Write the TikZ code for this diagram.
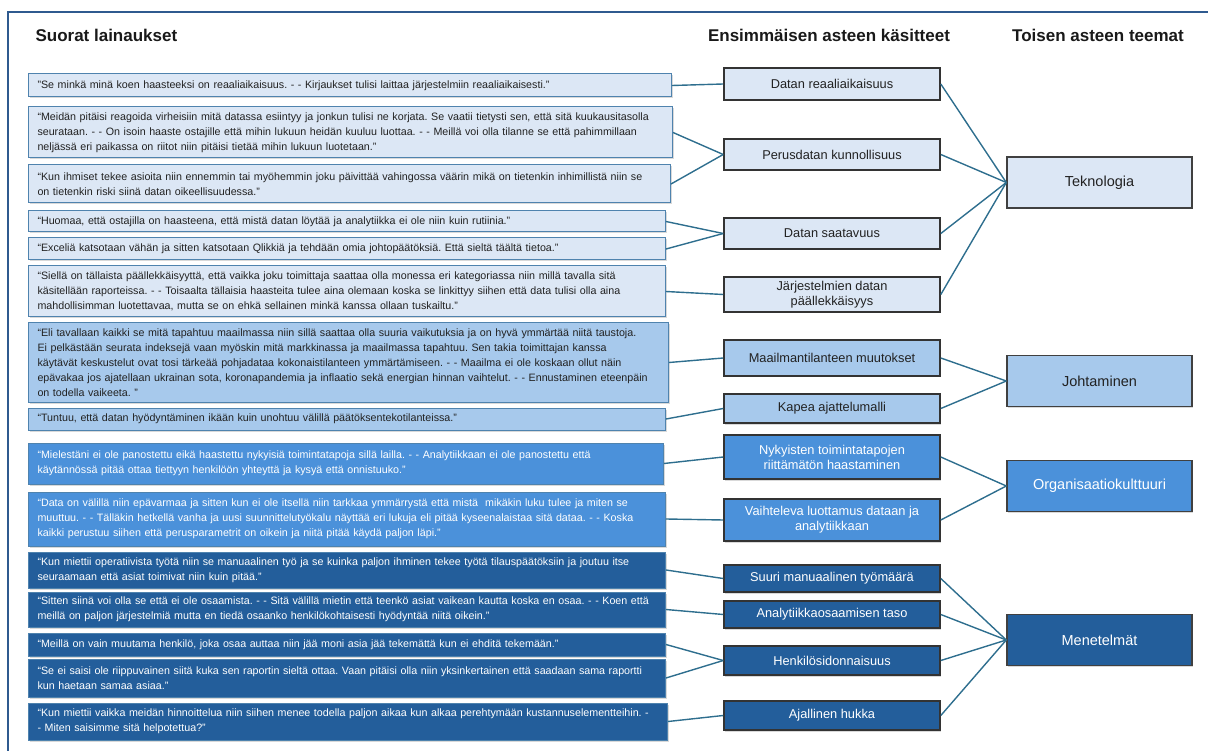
\documentclass[tikz,border=0pt]{standalone}
\usepackage{fontspec}
\setmainfont{Liberation Sans}
\usetikzlibrary{shadows}

\definecolor{framec}{HTML}{2F5A8F}
\definecolor{linkc}{HTML}{2E6E8E}
\definecolor{qborder}{HTML}{4F83AE}
\definecolor{techfill}{HTML}{DCE7F5}
\definecolor{leadfill}{HTML}{A7C9EC}
\definecolor{orgfill}{HTML}{4B91DA}
\definecolor{methfill}{HTML}{235E9B}
\definecolor{qtext}{HTML}{222222}

\tikzset{
  softshadow/.style={drop shadow={shadow xshift=1pt, shadow yshift=-1.5pt, opacity=0.3}},
  quote/.style={draw=qborder, line width=1pt, anchor=west, align=left,
    inner xsep=9pt, inner ysep=0pt, text=qtext,
    font=\fontsize{10.7}{15}\selectfont\frenchspacing, softshadow},
  darkquote/.style={quote, text=white},
  concept/.style={draw=black!80, line width=1.6pt, minimum width=216pt,
    align=center, inner sep=0pt, text=qtext,
    font=\fontsize{12.8}{15}\selectfont, softshadow},
  theme/.style={draw=black!75, line width=1.4pt, minimum width=185pt,
    minimum height=51pt, inner sep=0pt, text=qtext,
    font=\fontsize{14.5}{16}\selectfont, softshadow},
  link/.style={draw=linkc, line width=1.4pt},
  header/.style={font=\fontsize{17}{20}\selectfont\bfseries, text=black!90}
}

\begin{document}
\begin{tikzpicture}[x=1pt, y=-1pt]
\useasboundingbox (0,0) rectangle (1208,751);

% outer frame
\draw[framec, line width=1.2pt] (8,751) -- (8,12) -- (1208,12);

% column headers
\node[header, anchor=west] (h1) at (32,35) {Suorat lainaukset};
\node[header] (h2) at (829,35) {Ensimmäisen asteen käsitteet};
\node[header] (h3) at (1098,35) {Toisen asteen teemat};

% quotations
\node[quote, fill=techfill, minimum height=23pt, text width=625pt] (q1) at (28,85.5)
 {"Se minkä minä koen haasteeksi on reaaliaikaisuus. - - Kirjaukset tulisi laittaa järjestelmiin reaaliaikaisesti."};
\node[quote, fill=techfill, minimum height=51pt, text width=626pt] (q2) at (28,132.5)
 {“Meidän pitäisi reagoida virheisiin mitä datassa esiintyy ja jonkun tulisi ne korjata. Se vaatii tietysti sen, että sitä kuukausitasolla\\
 seurataan. - - On isoin haaste ostajille että mihin lukuun heidän kuuluu luottaa. - - Meillä voi olla tilanne se että pahimmillaan\\
 neljässä eri paikassa on riitot niin pitäisi tietää mihin lukuun luotetaan."};
\node[quote, fill=techfill, minimum height=38pt, text width=624pt] (q3) at (28,184)
 {“Kun ihmiset tekee asioita niin ennemmin tai myöhemmin joku päivittää vahingossa väärin mikä on tietenkin inhimillistä niin se\\
 on tietenkin riski siinä datan oikeellisuudessa."};
\node[quote, fill=techfill, minimum height=21pt, text width=619pt] (q4) at (28,221.5)
 {“Huomaa, että ostajilla on haasteena, että mistä datan löytää ja analytiikka ei ole niin kuin rutiinia."};
\node[quote, fill=techfill, minimum height=22pt, text width=619pt] (q5) at (28,249)
 {“Exceliä katsotaan vähän ja sitten katsotaan Qlikkiä ja tehdään omia johtopäätöksiä. Että sieltä täältä tietoa."};
\node[quote, fill=techfill, minimum height=51pt, text width=619pt] (q6) at (28,291.5)
 {“Siellä on tällaista päällekkäisyyttä, että vaikka joku toimittaja saattaa olla monessa eri kategoriassa niin millä tavalla sitä\\
 käsitellään raporteissa. - - Toisaalta tällaisia haasteita tulee aina olemaan koska se linkittyy siihen että data tulisi olla aina\\
 mahdollisimman luotettavaa, mutta se on ehkä sellainen minkä kanssa ollaan tuskailtu."};
\node[quote, fill=leadfill, minimum height=79pt, text width=622pt] (q7) at (28,362.5)
 {“Eli tavallaan kaikki se mitä tapahtuu maailmassa niin sillä saattaa olla suuria vaikutuksia ja on hyvä ymmärtää niitä taustoja.\\
 Ei pelkästään seurata indeksejä vaan myöskin mitä markkinassa ja maailmassa tapahtuu. Sen takia toimittajan kanssa\\
 käytävät keskustelut ovat tosi tärkeää pohjadataa kokonaistilanteen ymmärtämiseen. - - Maailma ei ole koskaan ollut näin\\
 epävakaa jos ajatellaan ukrainan sota, koronapandemia ja inflaatio sekä energian hinnan vaihtelut. - - Ennustaminen eteenpäin\\
 on todella vaikeeta. "};
\node[quote, fill=leadfill, minimum height=22pt, text width=619pt] (q8) at (28,419)
 {“Tuntuu, että datan hyödyntäminen ikään kuin unohtuu välillä päätöksentekotilanteissa."};
\node[darkquote, fill=orgfill, minimum height=41pt, text width=617pt] (q9) at (28,463.5)
 {“Mielestäni ei ole panostettu eikä haastettu nykyisiä toimintatapoja sillä lailla. - - Analytiikkaan ei ole panostettu että\\
 käytännössä pitää ottaa tiettyyn henkilöön yhteyttä ja kysyä että onnistuuko."};
\node[darkquote, fill=orgfill, minimum height=54pt, text width=619pt] (q10) at (28,519)
 {“Data on välillä niin epävarmaa ja sitten kun ei ole itsellä niin tarkkaa ymmärrystä että mistä~ mikäkin luku tulee ja miten se\\
 muuttuu. - - Tälläkin hetkellä vanha ja uusi suunnittelutyökalu näyttää eri lukuja eli pitää kyseenalaistaa sitä dataa. - - Koska\\
 kaikki perustuu siihen että perusparametrit on oikein ja niitä pitää käydä paljon läpi."};
\node[darkquote, fill=methfill, minimum height=36pt, text width=619pt] (q11) at (28,570)
 {“Kun miettii operatiivista työtä niin se manuaalinen työ ja se kuinka paljon ihminen tekee työtä tilauspäätöksiin ja joutuu itse\\
 seuraamaan että asiat toimivat niin kuin pitää."};
\node[darkquote, fill=methfill, minimum height=35pt, text width=619pt] (q12) at (28,609.5)
 {“Sitten siinä voi olla se että ei ole osaamista. - - Sitä välillä mietin että teenkö asiat vaikean kautta koska en osaa. - - Koen että\\
 meillä on paljon järjestelmiä mutta en tiedä osaanko henkilökohtaisesti hyödyntää niitä oikein."};
\node[darkquote, fill=methfill, minimum height=23pt, text width=619pt] (q13) at (28,644.5)
 {“Meillä on vain muutama henkilö, joka osaa auttaa niin jää moni asia jää tekemättä kun ei ehditä tekemään."};
\node[darkquote, fill=methfill, minimum height=38pt, text width=619pt] (q14) at (28,678)
 {“Se ei saisi ole riippuvainen siitä kuka sen raportin sieltä ottaa. Vaan pitäisi olla niin yksinkertainen että saadaan sama raportti\\
 kun haetaan samaa asiaa."};
\node[darkquote, fill=methfill, minimum height=37pt, text width=621pt] (q15) at (28,721.5)
 {“Kun miettii vaikka meidän hinnoittelua niin siihen menee todella paljon aikaa kun alkaa perehtymään kustannuselementteihin. -\\
 - Miten saisimme sitä helpotettua?"};

% first-order concepts
\node[concept, fill=techfill, minimum height=32pt] (c1) at (832,84) {Datan reaaliaikaisuus};
\node[concept, fill=techfill, minimum height=31pt] (c2) at (832,154.5) {Perusdatan kunnollisuus};
\node[concept, fill=techfill, minimum height=31pt] (c3) at (832,233.5) {Datan saatavuus};
\node[concept, fill=techfill, minimum height=35pt] (c4) at (832,294.5) {Järjestelmien datan\\päällekkäisyys};
\node[concept, fill=leadfill, minimum height=36pt] (c5) at (832,358) {Maailmantilanteen muutokset};
\node[concept, fill=leadfill, minimum height=29pt] (c6) at (832,408.5) {Kapea ajattelumalli};
\node[concept, fill=orgfill, text=white, minimum height=44pt] (c7) at (832,457) {Nykyisten toimintatapojen\\riittämätön haastaminen};
\node[concept, fill=orgfill, text=white, minimum height=42pt] (c8) at (832,520) {Vaihteleva luottamus dataan ja\\analytiikkaan};
\node[concept, fill=methfill, text=white, minimum height=27pt] (c9) at (832,578.5) {Suuri manuaalinen työmäärä};
\node[concept, fill=methfill, text=white, minimum height=27pt] (c10) at (832,614.5) {Analytiikkaosaamisen taso};
\node[concept, fill=methfill, text=white, minimum height=29pt] (c11) at (832,660.5) {Henkilösidonnaisuus};
\node[concept, fill=methfill, text=white, minimum height=29pt] (c12) at (832,715.5) {Ajallinen hukka};

% second-order themes
\node[theme, fill=techfill] (t1) at (1099.5,182.5) {Teknologia};
\node[theme, fill=leadfill] (t2) at (1099.5,381) {Johtaminen};
\node[theme, fill=orgfill, text=white] (t3) at (1099.5,486) {Organisaatiokulttuuri};
\node[theme, fill=methfill, text=white] (t4) at (1099.5,640) {Menetelmät};

% quotations to concepts
\draw[link] (q1.east) -- (c1.west);
\draw[link] (q2.east) -- (c2.west);
\draw[link] (q3.east) -- (c2.west);
\draw[link] (q4.east) -- (c3.west);
\draw[link] (q5.east) -- (c3.west);
\draw[link] (q6.east) -- (c4.west);
\draw[link] (q7.east) -- (c5.west);
\draw[link] (q8.east) -- (c6.west);
\draw[link] (q9.east) -- (c7.west);
\draw[link] (q10.east) -- (c8.west);
\draw[link] (q11.east) -- (c9.west);
\draw[link] (q12.east) -- (c10.west);
\draw[link] (q13.east) -- (c11.west);
\draw[link] (q14.east) -- (c11.west);
\draw[link] (q15.east) -- (c12.west);

% concepts to themes
\foreach \c in {c1,c2,c3,c4} \draw[link] (\c.east) -- (t1.west);
\foreach \c in {c5,c6} \draw[link] (\c.east) -- (t2.west);
\foreach \c in {c7,c8} \draw[link] (\c.east) -- (t3.west);
\foreach \c in {c9,c10,c11,c12} \draw[link] (\c.east) -- (t4.west);
\end{tikzpicture}
\end{document}
